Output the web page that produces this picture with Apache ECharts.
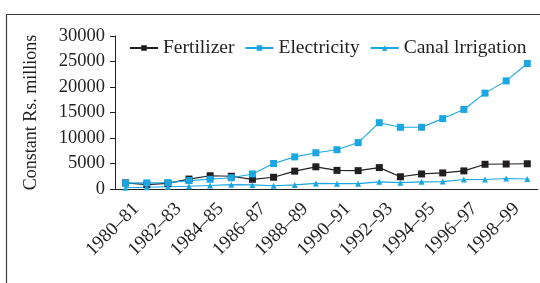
<!DOCTYPE html>
<html>
<head>
<meta charset="utf-8">
<script src="https://cdn.jsdelivr.net/npm/echarts@6/dist/echarts.min.js"></script>
<style>
  html, body { margin: 0; padding: 0; background: #fff; }
  #chart { width: 540px; height: 283px; }
</style>
</head>
<body>
<div id="chart"></div>
<script>
  // years on the x axis
  const categories = ['1980–81', '1981–82', '1982–83', '1983–84', '1984–85', '1985–86', '1986–87',
    '1987–88', '1988–89', '1989–90', '1990–91', '1991–92', '1992–93', '1993–94', '1994–95',
    '1995–96', '1996–97', '1997–98', '1998–99', '1999–00'];
  const tickLabels = ['1980–81', '1982–83', '1984–85', '1986–87', '1988–89', '1990–91',
    '1992–93', '1994–95', '1996–97', '1998–99'];

  // Constant Rs. millions
  const fertilizer = [1200, 850, 1100, 1950, 2600, 2500, 1900, 2300, 3500, 4350,
    3650, 3600, 4200, 2400, 2950, 3150, 3550, 4850, 4900, 4950];
  const electricity = [1150, 1200, 1250, 1650, 1900, 2200, 2950, 5000, 6300, 7100,
    7700, 9100, 13000, 12100, 12100, 13800, 15600, 18800, 21200, 24600];
  const canal = [250, 350, 450, 550, 700, 850, 800, 650, 800, 1100,
    1050, 1050, 1400, 1250, 1400, 1450, 1850, 1850, 2050, 1950];

  const font = 'Liberation Serif';
  const ink = '#231f20';
  const blue = '#1aa6e2';

  let chart = echarts.init(document.getElementById('chart'));

  // labels sit on the tick marks, so a second axis holds them at the boundaries
  let labelSlots = [''].concat(categories);

  chart.setOption({
    animation: false,
    textStyle: { fontFamily: font, color: ink },
    graphic: [{
      type: 'rect',
      shape: { x: 6.5, y: 14.5, width: 600, height: 400 },
      style: { fill: 'none', stroke: '#3c3c3c', lineWidth: 1.2 },
      silent: true
    }],
    legend: {
      left: 129,
      top: 38,
      padding: 0,
      itemWidth: 28,
      itemHeight: 7,
      itemGap: 10,
      textStyle: { fontFamily: font, fontSize: 19.5, color: ink },
      data: ['Fertilizer', 'Electricity', 'Canal lrrigation']
    },
    grid: { left: 115, right: -4, top: 36, bottom: 94 },
    xAxis: [{
      type: 'category',
      data: categories,
      boundaryGap: true,
      axisLine: { lineStyle: { color: ink, width: 1 } },
      axisTick: { interval: 0, length: 5, lineStyle: { color: ink } },
      axisLabel: { show: false }
    }, {
      type: 'category',
      data: labelSlots,
      boundaryGap: false,
      position: 'bottom',
      axisLine: { show: false },
      axisTick: { show: false },
      axisLabel: {
        interval: 0,
        rotate: 45,
        margin: 17,
        fontFamily: font,
        fontSize: 19,
        color: ink,
        formatter: (v) => tickLabels.includes(v) ? v : ''
      }
    }],
    yAxis: {
      type: 'value',
      min: 0,
      max: 30000,
      interval: 5000,
      name: 'Constant Rs. millions',
      nameLocation: 'middle',
      nameGap: 75,
      nameTextStyle: { fontFamily: font, fontSize: 18, color: ink },
      axisLine: { show: true, lineStyle: { color: ink, width: 1 } },
      axisTick: { show: true, length: 5, lineStyle: { color: ink } },
      axisLabel: {
        fontFamily: font, fontSize: 18.5, color: ink, margin: 10,
        formatter: (v) => String(v)
      },
      splitLine: { show: false }
    },
    series: [{
      name: 'Fertilizer',
      type: 'line',
      data: fertilizer,
      symbol: 'rect',
      symbolSize: 7,
      itemStyle: { color: ink },
      lineStyle: { color: ink, width: 1.2 }
    }, {
      name: 'Electricity',
      type: 'line',
      data: electricity,
      symbol: 'rect',
      symbolSize: 7,
      itemStyle: { color: blue },
      lineStyle: { color: blue, width: 1.1 }
    }, {
      name: 'Canal lrrigation',
      type: 'line',
      data: canal,
      symbol: 'triangle',
      symbolSize: 6,
      itemStyle: { color: blue },
      lineStyle: { color: blue, width: 1.1 }
    }]
  });
</script>
</body>
</html>
